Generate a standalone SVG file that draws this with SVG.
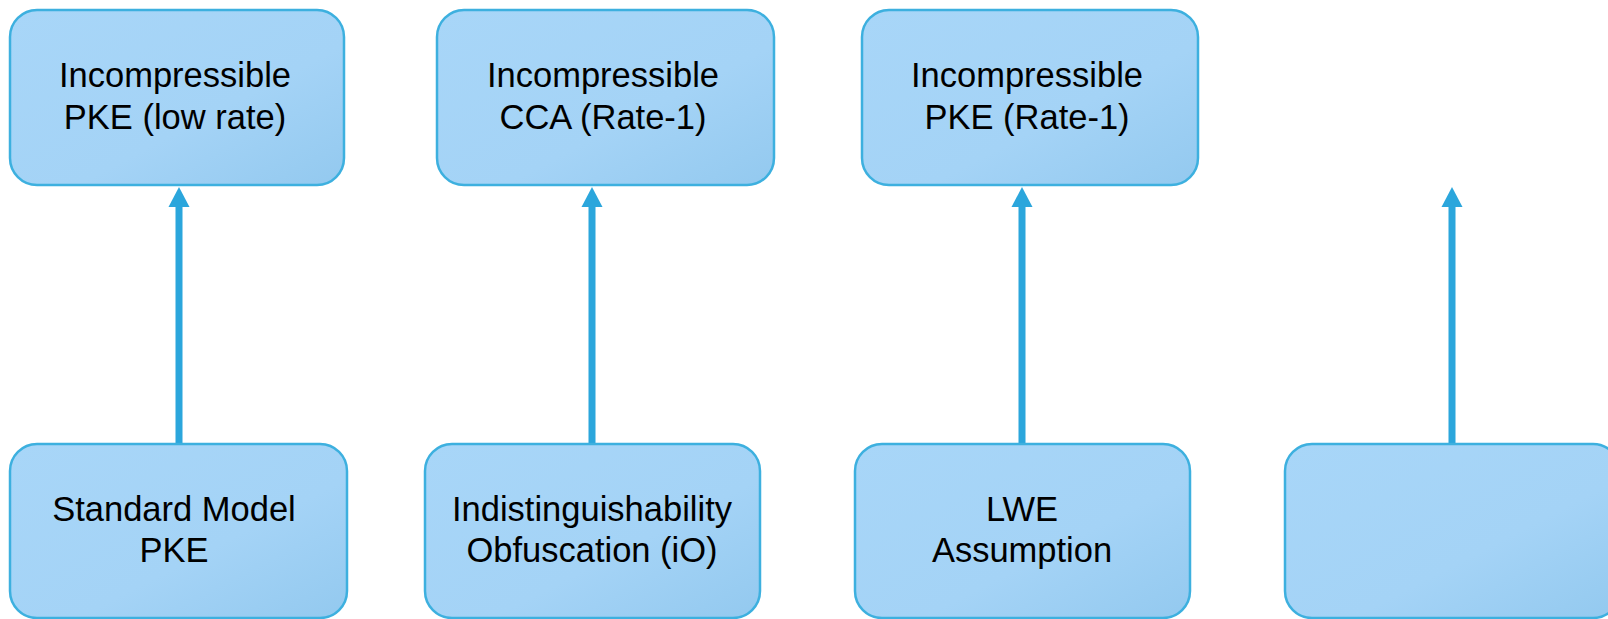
<svg xmlns="http://www.w3.org/2000/svg" width="1608" height="619" viewBox="0 0 1608 619">
  <style>
    .box { fill: url(#boxFill); stroke: #3db0df; stroke-width: 2.5; }
    .label { font-family: "Liberation Sans", Arial, sans-serif; font-size: 34.5px; fill: #000; text-anchor: middle; }
    .link { stroke: #2ba6dc; stroke-width: 7; fill: none; marker-end: url(#head); }
  </style>
  <defs>
    <linearGradient id="boxFill" x1="0" y1="0" x2="1" y2="1">
      <stop offset="0" stop-color="#a8d6f8"/>
      <stop offset="0.6" stop-color="#a4d3f6"/>
      <stop offset="1" stop-color="#93c9ef"/>
    </linearGradient>
    <marker id="head" markerUnits="userSpaceOnUse" markerWidth="22" markerHeight="22" viewBox="0 0 20 22" refX="0" refY="11" orient="auto">
      <path d="M0,0.5 L20,11 L0,21.5 Z" fill="#2ba6dc"/>
    </marker>
  </defs>

  <rect width="1608" height="619" fill="#fff"/>

  <!-- connectors: each lower assumption points up to the primitive it yields -->
  <g id="connectors">
    <path class="link" d="M179,444 V207"/>
    <path class="link" d="M592,444 V207"/>
    <path class="link" d="M1022,444 V207"/>
    <path class="link" d="M1452,444 V207"/>
  </g>

  <!-- top row -->
  <g id="pke-low-rate">
    <rect class="box" x="10" y="10" width="334" height="175" rx="27"/>
    <text class="label" x="175" y="87">Incompressible</text>
    <text class="label" x="175" y="129">PKE (low rate)</text>
  </g>
  <g id="cca-rate1">
    <rect class="box" x="437" y="10" width="337" height="175" rx="27"/>
    <text class="label" x="603" y="87">Incompressible</text>
    <text class="label" x="603" y="129">CCA (Rate-1)</text>
  </g>
  <g id="pke-rate1">
    <rect class="box" x="862" y="10" width="336" height="175" rx="27"/>
    <text class="label" x="1027" y="87">Incompressible</text>
    <text class="label" x="1027" y="129">PKE (Rate-1)</text>
  </g>

  <!-- bottom row -->
  <g id="standard-model">
    <rect class="box" x="10" y="444" width="337" height="174" rx="27"/>
    <text class="label" x="174" y="521">Standard Model</text>
    <text class="label" x="174" y="562">PKE</text>
  </g>
  <g id="io">
    <rect class="box" x="425" y="444" width="335" height="174" rx="27"/>
    <text class="label" x="592" y="521">Indistinguishability</text>
    <text class="label" x="592" y="562">Obfuscation (iO)</text>
  </g>
  <g id="lwe">
    <rect class="box" x="855" y="444" width="335" height="174" rx="27"/>
    <text class="label" x="1022" y="521">LWE</text>
    <text class="label" x="1022" y="562">Assumption</text>
  </g>
  <g id="blank">
    <rect class="box" x="1285" y="444" width="335" height="174" rx="27"/>
  </g>
</svg>
